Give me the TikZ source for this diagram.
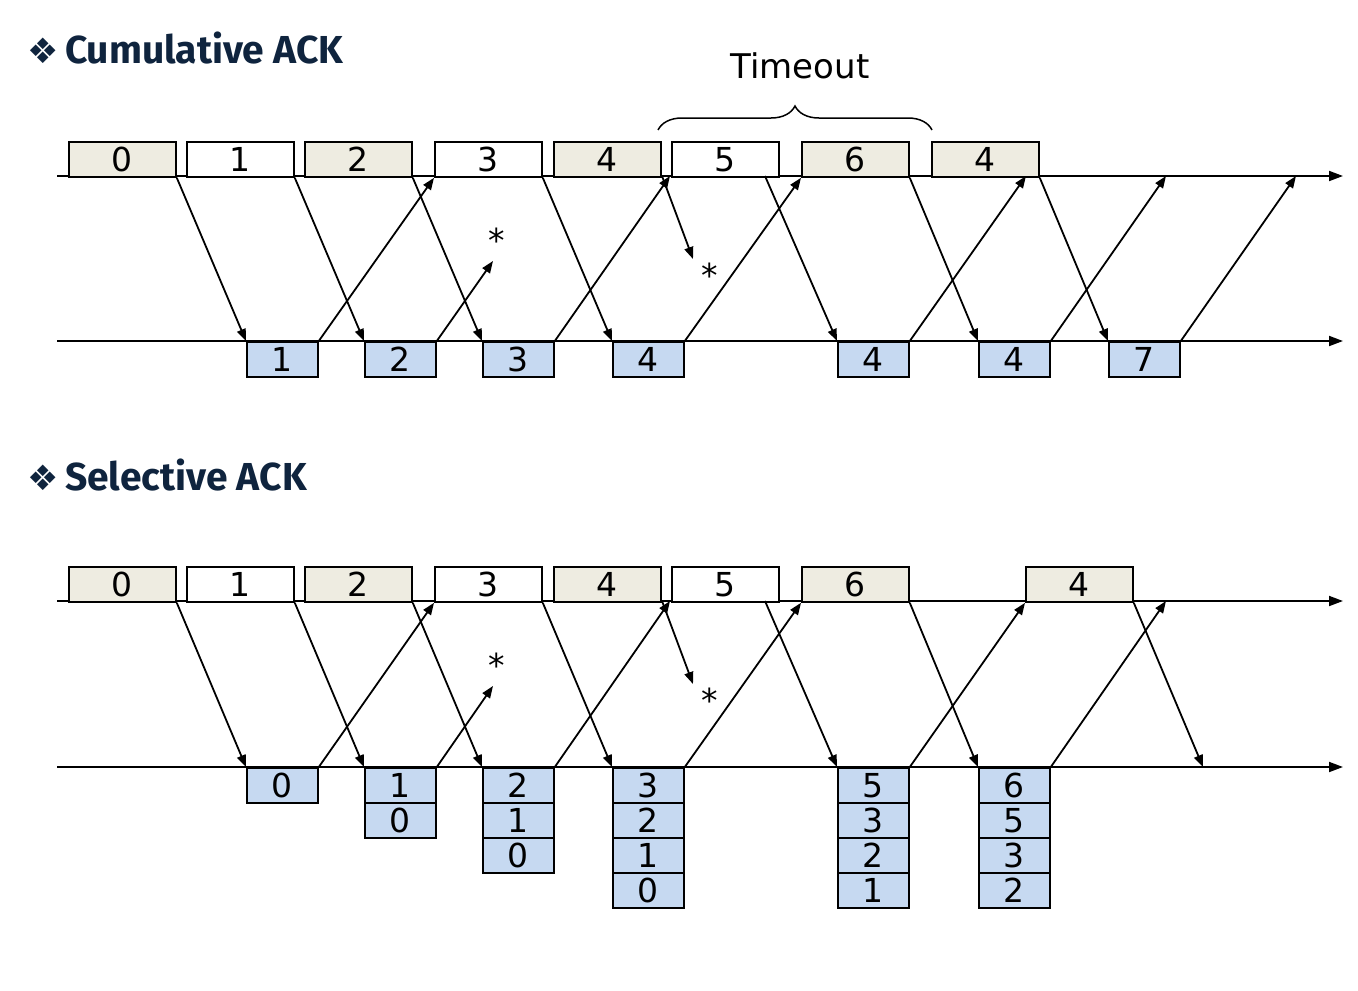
\documentclass[tikz,border=0pt]{standalone}
\usepackage{fontspec}
\setmainfont{DejaVu Sans}
\newfontfamily\titlefont{Fira Sans}
\usetikzlibrary{arrows.meta,decorations.pathreplacing}
\definecolor{beige}{HTML}{EEECE1}
\definecolor{ackblue}{HTML}{C6D9F1}
\definecolor{navy}{HTML}{0F243E}
\begin{document}
\begin{tikzpicture}[x=1pt,y=-1pt,
  pkt/.style={draw=black,line width=1.8pt,minimum width=107pt,minimum height=35pt,inner sep=0pt,anchor=north west,font=\fontsize{33}{33}\selectfont},
  sbox/.style={pkt,fill=beige},
  wbox/.style={pkt,fill=white},
  abox/.style={pkt,fill=ackblue,minimum width=71pt},
  msg/.style={line width=1.8pt,-{Triangle[length=12pt,width=9pt]}},
  axis/.style={line width=1.8pt,-{Triangle[length=14pt,width=10pt]}},
  ttl/.style={anchor=base west,inner sep=0pt,text=navy,font=\titlefont\bfseries\fontsize{39}{39}\selectfont},
  star/.style={inner sep=0pt,font=\fontsize{33}{33}\selectfont}]
\useasboundingbox (0,0) rectangle (1358,991);

% ---------- Cumulative ACK ----------
\node[ttl] (t1) at (27,63) {{\fontspec{DejaVu Sans}\fontsize{35}{35}\selectfont\char"2756}\,Cumulative ACK};
\coordinate (sa0) at (57,176); \coordinate (sa1) at (1343,176);
\coordinate (ra0) at (57,341); \coordinate (ra1) at (1343,341);
\draw[axis] (sa0) -- (sa1);
\draw[axis] (ra0) -- (ra1);

\node[sbox] (a0) at (68,141) {0};
\node[wbox] (a1) at (186,141) {1};
\node[sbox] (a2) at (304,141) {2};
\node[wbox] (a3) at (434,141) {3};
\node[sbox] (a4) at (553,141) {4};
\node[wbox] (a5) at (671,141) {5};
\node[sbox] (a6) at (801,141) {6};
\node[sbox] (a7) at (931,141) {4};

\node[abox] (b1) at (246,341) {1};
\node[abox] (b2) at (364,341) {2};
\node[abox] (b3) at (482,341) {3};
\node[abox] (b4) at (612,341) {4};
\node[abox] (b5) at (837,341) {4};
\node[abox] (b6) at (978,341) {4};
\node[abox] (b7) at (1108,341) {7};

\coordinate (br0) at (658,130);
\coordinate (br1) at (932,130);
\draw[decorate,decoration={brace,amplitude=24pt,raise=0pt},line width=1.5pt] (br0) -- (br1);
\node[inner sep=0pt,font=\fontsize{34}{34}\selectfont] (to) at (800,66) {Timeout};

\coordinate (la1) at (493,261);
\coordinate (la2) at (693,259);
\coordinate (a5x) at (765,176);
\coordinate (a4x) at (662,176);
\coordinate (up3) at (670,176);
\coordinate (up6) at (1026,176);
\coordinate (up7) at (1166,176);
\coordinate (up8) at (1296,176);
\node[star] (st1) at (497,240) {*};
\node[star] (st2) at (710,275) {*};

\draw[msg] (a0.south east) -- (b1.north west);
\draw[msg] (a1.south east) -- (b2.north west);
\draw[msg] (b1.north east) -- (a3.south west);
\draw[msg] (a2.south east) -- (b3.north west);
\draw[msg] (b2.north east) -- (la1);
\draw[msg] (a3.south east) -- (b4.north west);
\draw[msg] (b3.north east) -- (up3);
\draw[msg] (a4x) -- (la2);
\draw[msg] (b4.north east) -- (a6.south west);
\draw[msg] (a5x) -- (b5.north west);
\draw[msg] (a6.south east) -- (b6.north west);
\draw[msg] (b5.north east) -- (up6);
\draw[msg] (a7.south east) -- (b7.north west);
\draw[msg] (b6.north east) -- (up7);
\draw[msg] (b7.north east) -- (up8);

% ---------- Selective ACK ----------
\node[ttl] (t2) at (27,490) {{\fontspec{DejaVu Sans}\fontsize{35}{35}\selectfont\char"2756}\,Selective ACK};
\coordinate (sb0) at (57,601); \coordinate (sb1) at (1343,601);
\coordinate (rb0) at (57,767); \coordinate (rb1) at (1343,767);
\draw[axis] (sb0) -- (sb1);
\draw[axis] (rb0) -- (rb1);

\node[sbox] (c0) at (68,566) {0};
\node[wbox] (c1) at (186,566) {1};
\node[sbox] (c2) at (304,566) {2};
\node[wbox] (c3) at (434,566) {3};
\node[sbox] (c4) at (553,566) {4};
\node[wbox] (c5) at (671,566) {5};
\node[sbox] (c6) at (801,566) {6};
\node[sbox] (c7) at (1025,566) {4};

\node[abox] (d1) at (246,767) {0};
\node[abox] (d2) at (364,767) {1};
\node[abox] (d2b) at (364,802) {0};
\node[abox] (d3) at (482,767) {2};
\node[abox] (d3b) at (482,802) {1};
\node[abox] (d3c) at (482,837) {0};
\node[abox] (d4) at (612,767) {3};
\node[abox] (d4b) at (612,802) {2};
\node[abox] (d4c) at (612,837) {1};
\node[abox] (d4d) at (612,872) {0};
\node[abox] (d5) at (837,767) {5};
\node[abox] (d5b) at (837,802) {3};
\node[abox] (d5c) at (837,837) {2};
\node[abox] (d5d) at (837,872) {1};
\node[abox] (d6) at (978,767) {6};
\node[abox] (d6b) at (978,802) {5};
\node[abox] (d6c) at (978,837) {3};
\node[abox] (d6d) at (978,872) {2};

\coordinate (lb1) at (493,686);
\coordinate (lb2) at (693,684);
\coordinate (c5x) at (765,601);
\coordinate (c4x) at (662,601);
\coordinate (upb3) at (670,601);
\coordinate (upb7) at (1166,601);
\coordinate (endb) at (1203,767);
\node[star] (st3) at (497,665) {*};
\node[star] (st4) at (710,700) {*};

\draw[msg] (c0.south east) -- (d1.north west);
\draw[msg] (c1.south east) -- (d2.north west);
\draw[msg] (d1.north east) -- (c3.south west);
\draw[msg] (c2.south east) -- (d3.north west);
\draw[msg] (d2.north east) -- (lb1);
\draw[msg] (c3.south east) -- (d4.north west);
\draw[msg] (d3.north east) -- (upb3);
\draw[msg] (c4x) -- (lb2);
\draw[msg] (d4.north east) -- (c6.south west);
\draw[msg] (c5x) -- (d5.north west);
\draw[msg] (c6.south east) -- (d6.north west);
\draw[msg] (d5.north east) -- (c7.south west);
\draw[msg] (d6.north east) -- (upb7);
\draw[msg] (c7.south east) -- (endb);
\end{tikzpicture}
\end{document}
